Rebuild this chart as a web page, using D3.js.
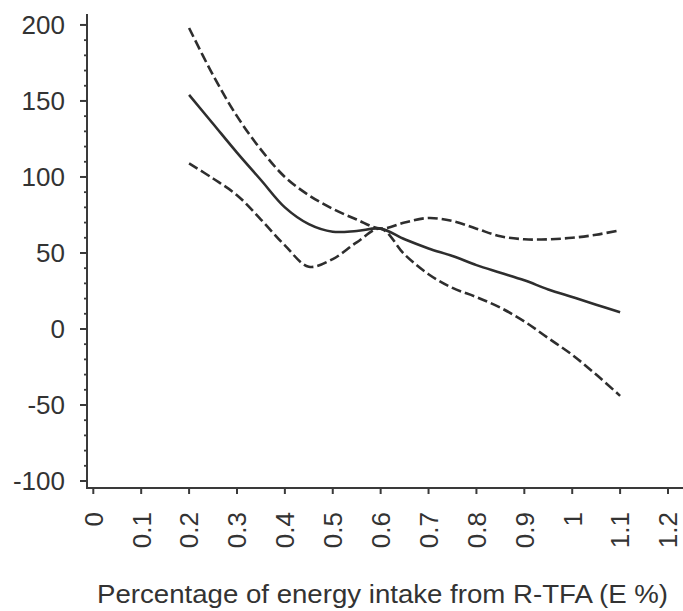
<!DOCTYPE html>
<html>
<head>
<meta charset="utf-8">
<script src="https://cdn.jsdelivr.net/npm/d3@7"></script>
<style>
  html, body { margin: 0; padding: 0; background: #fff; }
  svg { display: block; }
  text { font-family: "Liberation Sans", Arial, Helvetica, sans-serif; fill: #333; }
</style>
</head>
<body>
<svg id="chart" width="683" height="611"></svg>
<script>
// ---- data ----
const xValues = [0.2, 0.25, 0.3, 0.35, 0.4, 0.45, 0.5, 0.55, 0.6, 0.65, 0.7, 0.75, 0.8, 0.85, 0.9, 0.95, 1.0, 1.05, 1.1];
const estimate = [154, 135, 116, 98, 80, 69, 64, 64.5, 66, 59, 53, 48, 42, 37, 32, 26, 21, 16, 11];
const upperCI  = [198, 167, 140, 118, 100, 88, 79, 72, 66, 70, 73, 71, 66, 61, 59, 59, 60, 62, 65];
const lowerCI  = [109, 99, 88, 72, 55, 41, 46, 57, 66, 49, 36, 27, 21, 14, 5, -6, -17, -30, -44];
const xTicks = [0, 0.1, 0.2, 0.3, 0.4, 0.5, 0.6, 0.7, 0.8, 0.9, 1.0, 1.1, 1.2];
const xTickLabels = ["0", "0.1", "0.2", "0.3", "0.4", "0.5", "0.6", "0.7", "0.8", "0.9", "1", "1.1", "1.2"];
const yTicks = [-100, -50, 0, 50, 100, 150, 200];
const yTickLabels = ["-100", "-50", "0", "50", "100", "150", "200"];
const xTitle = "Percentage of energy intake from R-TFA (E %)";

// ---- layout ----
const svg = d3.select("#chart");
const axisX0 = 87, axisY0 = 488;
const x = d3.scaleLinear().domain([0, 1.2]).range([93.3, 668]);
const y = d3.scaleLinear().domain([-104.6, 207.2]).range([488, 14]);
const axisColor = "#3a3a3a";
const lineColor = "#2e2e2e";

// y axis
const yMinor = d3.range(-100, 201, 10).filter(v => v % 50 !== 0);
const yAxisG = svg.append("g").attr("transform", `translate(${axisX0},0)`);
yAxisG.append("line").attr("x1", 0).attr("x2", 0).attr("y1", y.range()[1]).attr("y2", axisY0)
  .attr("stroke", axisColor).attr("stroke-width", 2);
yAxisG.selectAll("line.major").data(yTicks).enter().append("line").attr("class", "major")
  .attr("x1", -7).attr("x2", 0).attr("y1", d => y(d)).attr("y2", d => y(d))
  .attr("stroke", axisColor).attr("stroke-width", 2);
yAxisG.selectAll("line.minor").data(yMinor).enter().append("line").attr("class", "minor")
  .attr("x1", -3).attr("x2", 0).attr("y1", d => y(d)).attr("y2", d => y(d))
  .attr("stroke", axisColor).attr("stroke-width", 1.8);
yAxisG.selectAll("text").data(yTicks).enter().append("text")
  .attr("x", -22).attr("y", d => y(d)).attr("dy", "0.36em")
  .attr("text-anchor", "end").attr("font-size", 26)
  .text((d, i) => yTickLabels[i]);

// x axis
const xAxisG = svg.append("g").attr("transform", `translate(0,${axisY0})`);
xAxisG.append("line").attr("x1", axisX0 - 1).attr("x2", 683).attr("y1", 0).attr("y2", 0)
  .attr("stroke", axisColor).attr("stroke-width", 2);
xAxisG.selectAll("line.tick").data(xTicks).enter().append("line").attr("class", "tick")
  .attr("x1", d => x(d)).attr("x2", d => x(d)).attr("y1", 0).attr("y2", 6)
  .attr("stroke", axisColor).attr("stroke-width", 2);
xAxisG.selectAll("text").data(xTicks).enter().append("text")
  .attr("transform", d => `translate(${x(d)},24) rotate(-90)`)
  .attr("dy", "0.36em")
  .attr("text-anchor", "end").attr("font-size", 26)
  .text((d, i) => xTickLabels[i]);

// title
const title = svg.append("text")
  .attr("x", 97).attr("y", 603)
  .attr("font-size", 26)
  .text(xTitle);
title.attr("textLength", 571).attr("lengthAdjust", "spacingAndGlyphs");

// lines
const line = vals => d3.line()
  .x((d, i) => x(xValues[i]))
  .y(d => y(d))
  .curve(d3.curveCatmullRom.alpha(0.5))(vals);

svg.append("path").attr("d", line(upperCI)).attr("fill", "none")
  .attr("stroke", lineColor).attr("stroke-width", 2.6).attr("stroke-dasharray", "10,4");
svg.append("path").attr("d", line(lowerCI)).attr("fill", "none")
  .attr("stroke", lineColor).attr("stroke-width", 2.6).attr("stroke-dasharray", "10,4");
svg.append("path").attr("d", line(estimate)).attr("fill", "none")
  .attr("stroke", lineColor).attr("stroke-width", 2.6);
</script>
</body>
</html>
